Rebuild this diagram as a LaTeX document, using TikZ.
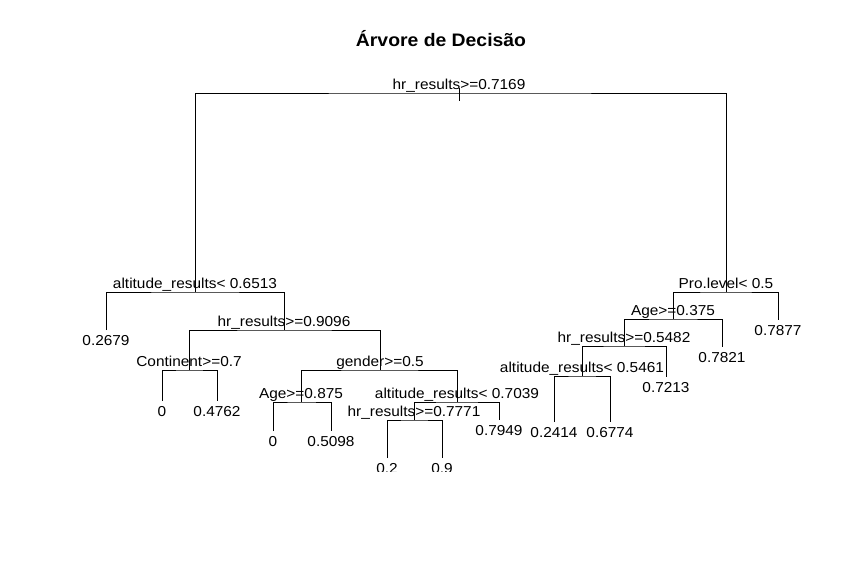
\documentclass[tikz,border=0pt]{standalone}
\usepackage{fontspec}
\setmainfont{Liberation Sans}[FakeStretch=1.07]
\newcommand{\lblfont}{\fontsize{14.4}{14.4}\selectfont}
\newcommand{\ttlfont}{\fontsize{18.1}{18.1}\selectfont\bfseries}
\tikzset{every picture/.style={line width=1pt}}
\tikzset{
  splitlab/.style={anchor=base, inner sep=0pt, font=\lblfont},
  leaf/.style={anchor=north, inner sep=0pt, outer sep=0pt, outer ysep=5pt, font=\lblfont}
}

\begin{document}
\begin{tikzpicture}[x=1pt,y=1pt,yscale=-1,xscale=1]
	\useasboundingbox (0,0) rectangle (846,571);
	
	%Title
	\node[font=\ttlfont, anchor=base] (title) at (441,46) {Árvore de Decisão};
	
	\begin{scope}
		%plot region cuts the lowest leaves
		\clip (0,0) rectangle (846,471.3);
		
		%split points
		\coordinate (hr0) at (459,93);
		\coordinate (alt1) at (195,292);
		\coordinate (hr1) at (284,330);
		\coordinate (cont) at (189,370);
		\coordinate (gend) at (380,370);
		\coordinate (age1) at (301,402);
		\coordinate (alt2) at (457,402);
		\coordinate (hr2) at (414,420);
		\coordinate (pro) at (726,292);
		\coordinate (age2) at (673,319);
		\coordinate (hr3) at (624,346);
		\coordinate (alt3) at (582,376);
		
		%split labels
		\node[splitlab] (hr0lab) at (459,89) {hr\_results>=0.7169};
		\node[splitlab] (alt1lab) at (195,288) {altitude\_results< 0.6513};
		\node[splitlab] (hr1lab) at (284,326) {hr\_results>=0.9096};
		\node[splitlab] (contlab) at (189,366) {Continent>=0.7};
		\node[splitlab] (gendlab) at (380,366) {gender>=0.5};
		\node[splitlab] (age1lab) at (301,398) {Age>=0.875};
		\node[splitlab] (alt2lab) at (457,398) {altitude\_results< 0.7039};
		\node[splitlab] (hr2lab) at (414,416) {hr\_results>=0.7771};
		\node[splitlab] (prolab) at (726,288) {Pro.level< 0.5};
		\node[splitlab] (age2lab) at (673,315) {Age>=0.375};
		\node[splitlab] (hr3lab) at (624,342) {hr\_results>=0.5482};
		\node[splitlab] (alt3lab) at (582,372) {altitude\_results< 0.5461};
		
		%leaves
		\node[leaf] (lf2679) at (106,330) {0.2679};
		\node[leaf] (lfc0) at (162,401) {0};
		\node[leaf] (lf4762) at (217,401) {0.4762};
		\node[leaf] (lfa0) at (273,431) {0};
		\node[leaf] (lf5098) at (331,431) {0.5098};
		\node[leaf] (lf02) at (387,458) {0.2};
		\node[leaf] (lf09) at (442,458) {0.9};
		\node[leaf] (lf7949) at (499,420) {0.7949};
		\node[leaf] (lf2414) at (554,422) {0.2414};
		\node[leaf] (lf6774) at (610,422) {0.6774};
		\node[leaf] (lf7213) at (666,377) {0.7213};
		\node[leaf] (lf7821) at (722,347) {0.7821};
		\node[leaf] (lf7877) at (778,320) {0.7877};
		
		%branches
		\draw (hr0) ++(0,-5) -- ++(0,13);
		\draw (alt1) |- (hr0) -| (pro);
		\draw (lf2679) |- (alt1) -| (hr1);
		\draw (cont) |- (hr1) -| (gend);
		\draw (lfc0) |- (cont) -| (lf4762);
		\draw (age1) |- (gend) -| (alt2);
		\draw (lfa0) |- (age1) -| (lf5098);
		\draw (hr2) |- (alt2) -| (lf7949);
		\draw (lf02) |- (hr2) -| (lf09);
		\draw (age2) |- (pro) -| (lf7877);
		\draw (hr3) |- (age2) -| (lf7821);
		\draw (alt3) |- (hr3) -| (lf7213);
		\draw (lf2414) |- (alt3) -| (lf6774);
	\end{scope}
\end{tikzpicture}
\end{document}
